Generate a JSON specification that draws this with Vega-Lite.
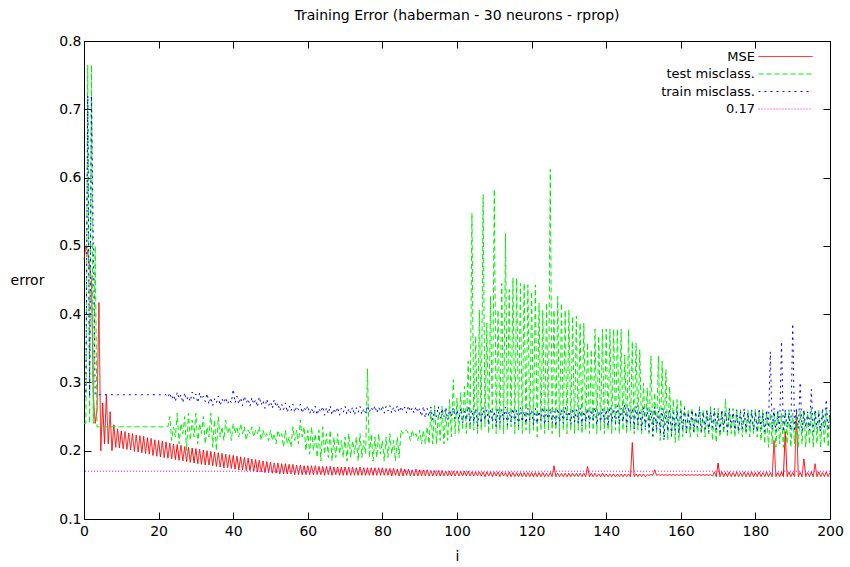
{
"$schema": "https://vega.github.io/schema/vega-lite/v6.json",
"width": 746, "height": 478,
"autosize": {"type": "none"},
"padding": {"left": 84, "top": 41, "right": 20, "bottom": 48},
"background": "white",
"title": {"text": "Training Error (haberman - 30 neurons - rprop)", "fontSize": 14, "fontWeight": "normal", "font": "DejaVu Sans", "color": "black", "offset": 18, "baseline": "alphabetic", "dy": 18},
"config": {
 "view": {"stroke": "black", "strokeWidth": 1},
 "axis": {"grid": false, "domain": false, "labelFlush": false, "tickColor": "black", "tickSize": -7, "tickWidth": 1, "labelFont": "DejaVu Sans", "labelFontSize": 14, "labelColor": "black", "titleFont": "DejaVu Sans", "titleFontSize": 14, "titleFontWeight": "normal", "titleColor": "black"},
 "legend": {"orient": "none", "legendX": 695, "legendY": 9, "padding": 0, "title": null, "symbolType": "M-5.4,0L5.4,0", "symbolSize": 100, "symbolStrokeWidth": 1, "labelFont": "DejaVu Sans", "labelFontSize": 13, "labelColor": "black", "labelAlign": "right", "labelOffset": -37, "rowPadding": 3.5}
},
"datasets": {"err": [
{"i":0,"m":0.48,"t":0.24,"r":0.28},{"i":0.5,"m":0.5,"t":0.24,"r":0.28},
{"i":1,"m":0.49,"t":0.765,"r":0.72},{"i":1.5,"m":0.47,"t":0.24,"r":0.28},
{"i":2,"m":0.45,"t":0.765,"r":0.72},{"i":2.5,"m":0.28,"t":0.24,"r":0.5},
{"i":3,"m":0.24,"t":0.5,"r":0.282},{"i":3.5,"m":0.26,"t":0.235,"r":0.282},
{"i":4,"m":0.417,"t":0.235,"r":0.282},{"i":4.5,"m":0.2,"t":0.235,"r":0.282},
{"i":5,"m":0.27,"t":0.235,"r":0.282},{"i":5.5,"m":0.21,"t":0.235,"r":0.282},
{"i":6,"m":0.282,"t":0.235,"r":0.282},{"i":6.5,"m":0.21,"t":0.235,"r":0.282},
{"i":7,"m":0.257,"t":0.235,"r":0.282},{"i":7.5,"m":0.2,"t":0.235,"r":0.282},
{"i":8,"m":0.238,"t":0.235,"r":0.282},{"i":8.5,"m":0.205,"t":0.235,"r":0.282},
{"i":9,"m":0.232,"t":0.235,"r":0.282},{"i":9.5,"m":0.204,"t":0.235,"r":0.282},
{"i":10,"m":0.229,"t":0.235,"r":0.282},{"i":10.5,"m":0.203,"t":0.235,"r":0.282},
{"i":11,"m":0.228,"t":0.235,"r":0.282},{"i":11.5,"m":0.202,"t":0.235,"r":0.282},
{"i":12,"m":0.226,"t":0.235,"r":0.282},{"i":12.5,"m":0.201,"t":0.235,"r":0.282},
{"i":13,"m":0.225,"t":0.235,"r":0.282},{"i":13.5,"m":0.199,"t":0.235,"r":0.282},
{"i":14,"m":0.223,"t":0.235,"r":0.282},{"i":14.5,"m":0.198,"t":0.235,"r":0.282},
{"i":15,"m":0.222,"t":0.235,"r":0.282},{"i":15.5,"m":0.197,"t":0.235,"r":0.282},
{"i":16,"m":0.221,"t":0.235,"r":0.282},{"i":16.5,"m":0.196,"t":0.235,"r":0.282},
{"i":17,"m":0.219,"t":0.235,"r":0.282},{"i":17.5,"m":0.195,"t":0.235,"r":0.282},
{"i":18,"m":0.218,"t":0.235,"r":0.282},{"i":18.5,"m":0.193,"t":0.235,"r":0.282},
{"i":19,"m":0.216,"t":0.235,"r":0.282},{"i":19.5,"m":0.192,"t":0.235,"r":0.282},
{"i":20,"m":0.215,"t":0.235,"r":0.282},{"i":20.5,"m":0.191,"t":0.235,"r":0.282},
{"i":21,"m":0.214,"t":0.235,"r":0.282},{"i":21.5,"m":0.19,"t":0.235,"r":0.282},
{"i":22,"m":0.213,"t":0.235,"r":0.282},{"i":22.5,"m":0.189,"t":0.235,"r":0.278},
{"i":23,"m":0.211,"t":0.25,"r":0.285},{"i":23.5,"m":0.188,"t":0.215,"r":0.275},
{"i":24,"m":0.21,"t":0.235,"r":0.282},{"i":24.5,"m":0.187,"t":0.22,"r":0.272},
{"i":25,"m":0.209,"t":0.255,"r":0.286},{"i":25.5,"m":0.186,"t":0.21,"r":0.276},
{"i":26,"m":0.208,"t":0.24,"r":0.282},{"i":26.5,"m":0.185,"t":0.225,"r":0.27},
{"i":27,"m":0.206,"t":0.25,"r":0.285},{"i":27.5,"m":0.184,"t":0.2,"r":0.274},
{"i":28,"m":0.205,"t":0.255,"r":0.28},{"i":28.5,"m":0.183,"t":0.215,"r":0.272},
{"i":29,"m":0.204,"t":0.245,"r":0.286},{"i":29.5,"m":0.182,"t":0.22,"r":0.276},
{"i":30,"m":0.203,"t":0.255,"r":0.283},{"i":30.5,"m":0.181,"t":0.21,"r":0.27},
{"i":31,"m":0.202,"t":0.24,"r":0.285},{"i":31.5,"m":0.18,"t":0.225,"r":0.275},
{"i":32,"m":0.201,"t":0.25,"r":0.28},{"i":32.5,"m":0.179,"t":0.21,"r":0.272},
{"i":33,"m":0.2,"t":0.235,"r":0.284},{"i":33.5,"m":0.179,"t":0.22,"r":0.268},
{"i":34,"m":0.199,"t":0.255,"r":0.278},{"i":34.5,"m":0.178,"t":0.205,"r":0.266},
{"i":35,"m":0.198,"t":0.245,"r":0.276},{"i":35.5,"m":0.177,"t":0.2,"r":0.27},
{"i":36,"m":0.197,"t":0.25,"r":0.28},{"i":36.5,"m":0.176,"t":0.22,"r":0.266},
{"i":37,"m":0.196,"t":0.235,"r":0.276},{"i":37.5,"m":0.175,"t":0.215,"r":0.27},
{"i":38,"m":0.195,"t":0.245,"r":0.278},{"i":38.5,"m":0.175,"t":0.225,"r":0.268},
{"i":39,"m":0.194,"t":0.235,"r":0.275},{"i":39.5,"m":0.174,"t":0.215,"r":0.27},
{"i":40,"m":0.193,"t":0.24,"r":0.29},{"i":40.5,"m":0.173,"t":0.225,"r":0.27},
{"i":41,"m":0.192,"t":0.235,"r":0.28},{"i":41.5,"m":0.172,"t":0.22,"r":0.268},
{"i":42,"m":0.191,"t":0.24,"r":0.278},{"i":42.5,"m":0.172,"t":0.225,"r":0.266},
{"i":43,"m":0.19,"t":0.235,"r":0.28},{"i":43.5,"m":0.171,"t":0.215,"r":0.27},
{"i":44,"m":0.189,"t":0.23,"r":0.276},{"i":44.5,"m":0.171,"t":0.225,"r":0.265},
{"i":45,"m":0.188,"t":0.235,"r":0.278},{"i":45.5,"m":0.17,"t":0.22,"r":0.268},
{"i":46,"m":0.187,"t":0.23,"r":0.275},{"i":46.5,"m":0.169,"t":0.225,"r":0.264},
{"i":47,"m":0.186,"t":0.235,"r":0.279},{"i":47.5,"m":0.169,"t":0.215,"r":0.267},
{"i":48,"m":0.185,"t":0.23,"r":0.274},{"i":48.5,"m":0.168,"t":0.22,"r":0.262},
{"i":49,"m":0.184,"t":0.225,"r":0.276},{"i":49.5,"m":0.168,"t":0.215,"r":0.266},
{"i":50,"m":0.183,"t":0.23,"r":0.272},{"i":50.5,"m":0.167,"t":0.215,"r":0.262},
{"i":51,"m":0.182,"t":0.225,"r":0.275},{"i":51.5,"m":0.167,"t":0.21,"r":0.264},
{"i":52,"m":0.182,"t":0.23,"r":0.27},{"i":52.5,"m":0.166,"t":0.22,"r":0.258},
{"i":53,"m":0.181,"t":0.225,"r":0.268},{"i":53.5,"m":0.166,"t":0.205,"r":0.26},
{"i":54,"m":0.181,"t":0.23,"r":0.27},{"i":54.5,"m":0.166,"t":0.21,"r":0.256},
{"i":55,"m":0.18,"t":0.22,"r":0.266},{"i":55.5,"m":0.166,"t":0.205,"r":0.258},
{"i":56,"m":0.18,"t":0.235,"r":0.268},{"i":56.5,"m":0.165,"t":0.215,"r":0.256},
{"i":57,"m":0.179,"t":0.23,"r":0.265},{"i":57.5,"m":0.165,"t":0.21,"r":0.26},
{"i":58,"m":0.179,"t":0.245,"r":0.268},{"i":58.5,"m":0.165,"t":0.22,"r":0.255},
{"i":59,"m":0.178,"t":0.235,"r":0.264},{"i":59.5,"m":0.165,"t":0.2,"r":0.258},
{"i":60,"m":0.178,"t":0.23,"r":0.266},{"i":60.5,"m":0.165,"t":0.195,"r":0.254},
{"i":61,"m":0.178,"t":0.235,"r":0.262},{"i":61.5,"m":0.165,"t":0.2,"r":0.254},
{"i":62,"m":0.178,"t":0.225,"r":0.265},{"i":62.5,"m":0.165,"t":0.19,"r":0.252},
{"i":63,"m":0.177,"t":0.23,"r":0.262},{"i":63.5,"m":0.165,"t":0.185,"r":0.256},
{"i":64,"m":0.177,"t":0.235,"r":0.265},{"i":64.5,"m":0.164,"t":0.195,"r":0.252},
{"i":65,"m":0.177,"t":0.225,"r":0.263},{"i":65.5,"m":0.165,"t":0.19,"r":0.254},
{"i":66,"m":0.177,"t":0.23,"r":0.266},{"i":66.5,"m":0.164,"t":0.185,"r":0.252},
{"i":67,"m":0.176,"t":0.22,"r":0.262},{"i":67.5,"m":0.165,"t":0.19,"r":0.255},
{"i":68,"m":0.176,"t":0.225,"r":0.264},{"i":68.5,"m":0.164,"t":0.195,"r":0.252},
{"i":69,"m":0.176,"t":0.215,"r":0.262},{"i":69.5,"m":0.164,"t":0.19,"r":0.256},
{"i":70,"m":0.176,"t":0.22,"r":0.265},{"i":70.5,"m":0.164,"t":0.185,"r":0.253},
{"i":71,"m":0.176,"t":0.225,"r":0.262},{"i":71.5,"m":0.164,"t":0.19,"r":0.255},
{"i":72,"m":0.176,"t":0.215,"r":0.264},{"i":72.5,"m":0.164,"t":0.195,"r":0.252},
{"i":73,"m":0.175,"t":0.22,"r":0.263},{"i":73.5,"m":0.164,"t":0.185,"r":0.256},
{"i":74,"m":0.176,"t":0.225,"r":0.265},{"i":74.5,"m":0.164,"t":0.19,"r":0.253},
{"i":75,"m":0.175,"t":0.215,"r":0.262},{"i":75.5,"m":0.164,"t":0.195,"r":0.255},
{"i":76,"m":0.175,"t":0.32,"r":0.266},{"i":76.5,"m":0.164,"t":0.19,"r":0.256},
{"i":77,"m":0.175,"t":0.225,"r":0.264},{"i":77.5,"m":0.164,"t":0.185,"r":0.258},
{"i":78,"m":0.175,"t":0.22,"r":0.266},{"i":78.5,"m":0.164,"t":0.19,"r":0.255},
{"i":79,"m":0.175,"t":0.225,"r":0.264},{"i":79.5,"m":0.164,"t":0.195,"r":0.257},
{"i":80,"m":0.175,"t":0.215,"r":0.266},{"i":80.5,"m":0.164,"t":0.185,"r":0.255},
{"i":81,"m":0.174,"t":0.22,"r":0.265},{"i":81.5,"m":0.164,"t":0.19,"r":0.258},
{"i":82,"m":0.174,"t":0.225,"r":0.266},{"i":82.5,"m":0.163,"t":0.195,"r":0.255},
{"i":83,"m":0.174,"t":0.215,"r":0.264},{"i":83.5,"m":0.164,"t":0.185,"r":0.257},
{"i":84,"m":0.173,"t":0.22,"r":0.266},{"i":84.5,"m":0.163,"t":0.19,"r":0.256},
{"i":85,"m":0.174,"t":0.23,"r":0.265},{"i":85.5,"m":0.163,"t":0.225,"r":0.258},
{"i":86,"m":0.173,"t":0.23,"r":0.264},{"i":86.5,"m":0.164,"t":0.23,"r":0.255},
{"i":87,"m":0.173,"t":0.225,"r":0.266},{"i":87.5,"m":0.163,"t":0.215,"r":0.257},
{"i":88,"m":0.172,"t":0.23,"r":0.263},{"i":88.5,"m":0.163,"t":0.22,"r":0.255},
{"i":89,"m":0.173,"t":0.225,"r":0.265},{"i":89.5,"m":0.163,"t":0.215,"r":0.256},
{"i":90,"m":0.172,"t":0.23,"r":0.262},{"i":90.5,"m":0.163,"t":0.21,"r":0.25},
{"i":91,"m":0.172,"t":0.23,"r":0.265},{"i":91.5,"m":0.163,"t":0.21,"r":0.248},
{"i":92,"m":0.172,"t":0.235,"r":0.262},{"i":92.5,"m":0.163,"t":0.21,"r":0.25},
{"i":93,"m":0.171,"t":0.26,"r":0.264},{"i":93.5,"m":0.163,"t":0.21,"r":0.245},
{"i":94,"m":0.171,"t":0.266,"r":0.26},{"i":94.5,"m":0.163,"t":0.21,"r":0.25},
{"i":95,"m":0.171,"t":0.255,"r":0.265},{"i":95.5,"m":0.163,"t":0.215,"r":0.247},
{"i":96,"m":0.171,"t":0.265,"r":0.262},{"i":96.5,"m":0.163,"t":0.21,"r":0.25},
{"i":97,"m":0.17,"t":0.26,"r":0.264},{"i":97.5,"m":0.163,"t":0.215,"r":0.245},
{"i":98,"m":0.17,"t":0.275,"r":0.26},{"i":98.5,"m":0.163,"t":0.22,"r":0.25},
{"i":99,"m":0.17,"t":0.304,"r":0.263},{"i":99.5,"m":0.163,"t":0.225,"r":0.247},
{"i":100,"m":0.17,"t":0.277,"r":0.26},{"i":100.5,"m":0.163,"t":0.225,"r":0.245},
{"i":101,"m":0.17,"t":0.285,"r":0.262},{"i":101.5,"m":0.163,"t":0.23,"r":0.24},
{"i":102,"m":0.17,"t":0.294,"r":0.258},{"i":102.5,"m":0.163,"t":0.225,"r":0.245},
{"i":103,"m":0.17,"t":0.331,"r":0.265},{"i":103.5,"m":0.163,"t":0.23,"r":0.238},
{"i":104,"m":0.169,"t":0.548,"r":0.26},{"i":104.5,"m":0.163,"t":0.23,"r":0.242},
{"i":105,"m":0.169,"t":0.368,"r":0.262},{"i":105.5,"m":0.163,"t":0.225,"r":0.235},
{"i":106,"m":0.169,"t":0.406,"r":0.258},{"i":106.5,"m":0.163,"t":0.23,"r":0.24},
{"i":107,"m":0.169,"t":0.575,"r":0.264},{"i":107.5,"m":0.162,"t":0.235,"r":0.245},
{"i":108,"m":0.169,"t":0.387,"r":0.26},{"i":108.5,"m":0.163,"t":0.225,"r":0.238},
{"i":109,"m":0.169,"t":0.426,"r":0.262},{"i":109.5,"m":0.162,"t":0.23,"r":0.242},
{"i":110,"m":0.169,"t":0.583,"r":0.258},{"i":110.5,"m":0.163,"t":0.225,"r":0.235},
{"i":111,"m":0.169,"t":0.406,"r":0.262},{"i":111.5,"m":0.162,"t":0.23,"r":0.24},
{"i":112,"m":0.169,"t":0.445,"r":0.26},{"i":112.5,"m":0.163,"t":0.225,"r":0.245},
{"i":113,"m":0.168,"t":0.518,"r":0.264},{"i":113.5,"m":0.162,"t":0.23,"r":0.238},
{"i":114,"m":0.169,"t":0.436,"r":0.258},{"i":114.5,"m":0.162,"t":0.235,"r":0.242},
{"i":115,"m":0.168,"t":0.453,"r":0.262},{"i":115.5,"m":0.162,"t":0.225,"r":0.24},
{"i":116,"m":0.168,"t":0.453,"r":0.26},{"i":116.5,"m":0.162,"t":0.23,"r":0.236},
{"i":117,"m":0.168,"t":0.445,"r":0.263},{"i":117.5,"m":0.162,"t":0.225,"r":0.242},
{"i":118,"m":0.168,"t":0.445,"r":0.258},{"i":118.5,"m":0.162,"t":0.23,"r":0.24},
{"i":119,"m":0.168,"t":0.443,"r":0.262},{"i":119.5,"m":0.162,"t":0.225,"r":0.245},
{"i":120,"m":0.168,"t":0.433,"r":0.26},{"i":120.5,"m":0.162,"t":0.23,"r":0.238},
{"i":121,"m":0.168,"t":0.443,"r":0.262},{"i":121.5,"m":0.162,"t":0.22,"r":0.24},
{"i":122,"m":0.168,"t":0.416,"r":0.258},{"i":122.5,"m":0.162,"t":0.23,"r":0.244},
{"i":123,"m":0.168,"t":0.406,"r":0.264},{"i":123.5,"m":0.162,"t":0.225,"r":0.238},
{"i":124,"m":0.167,"t":0.416,"r":0.26},{"i":124.5,"m":0.162,"t":0.23,"r":0.242},
{"i":125,"m":0.168,"t":0.612,"r":0.262},{"i":125.5,"m":0.162,"t":0.225,"r":0.24},
{"i":126,"m":0.178,"t":0.406,"r":0.258},{"i":126.5,"m":0.162,"t":0.23,"r":0.236},
{"i":127,"m":0.167,"t":0.426,"r":0.262},{"i":127.5,"m":0.162,"t":0.22,"r":0.242},
{"i":128,"m":0.167,"t":0.416,"r":0.26},{"i":128.5,"m":0.162,"t":0.23,"r":0.24},
{"i":129,"m":0.167,"t":0.406,"r":0.264},{"i":129.5,"m":0.162,"t":0.225,"r":0.245},
{"i":130,"m":0.167,"t":0.406,"r":0.258},{"i":130.5,"m":0.162,"t":0.23,"r":0.238},
{"i":131,"m":0.167,"t":0.397,"r":0.262},{"i":131.5,"m":0.162,"t":0.225,"r":0.242},
{"i":132,"m":0.167,"t":0.397,"r":0.26},{"i":132.5,"m":0.162,"t":0.23,"r":0.24},
{"i":133,"m":0.167,"t":0.387,"r":0.263},{"i":133.5,"m":0.162,"t":0.225,"r":0.236},
{"i":134,"m":0.167,"t":0.387,"r":0.258},{"i":134.5,"m":0.162,"t":0.23,"r":0.242},
{"i":135,"m":0.177,"t":0.358,"r":0.262},{"i":135.5,"m":0.162,"t":0.225,"r":0.24},
{"i":136,"m":0.167,"t":0.348,"r":0.26},{"i":136.5,"m":0.162,"t":0.23,"r":0.245},
{"i":137,"m":0.167,"t":0.378,"r":0.264},{"i":137.5,"m":0.162,"t":0.225,"r":0.238},
{"i":138,"m":0.166,"t":0.368,"r":0.258},{"i":138.5,"m":0.162,"t":0.23,"r":0.242},
{"i":139,"m":0.167,"t":0.378,"r":0.262},{"i":139.5,"m":0.162,"t":0.225,"r":0.24},
{"i":140,"m":0.166,"t":0.378,"r":0.26},{"i":140.5,"m":0.162,"t":0.23,"r":0.236},
{"i":141,"m":0.166,"t":0.378,"r":0.265},{"i":141.5,"m":0.162,"t":0.225,"r":0.242},
{"i":142,"m":0.166,"t":0.378,"r":0.262},{"i":142.5,"m":0.162,"t":0.23,"r":0.24},
{"i":143,"m":0.166,"t":0.378,"r":0.266},{"i":143.5,"m":0.162,"t":0.225,"r":0.238},
{"i":144,"m":0.166,"t":0.378,"r":0.262},{"i":144.5,"m":0.162,"t":0.23,"r":0.242},
{"i":145,"m":0.166,"t":0.34,"r":0.268},{"i":145.5,"m":0.162,"t":0.225,"r":0.235},
{"i":146,"m":0.166,"t":0.378,"r":0.264},{"i":146.5,"m":0.162,"t":0.23,"r":0.24},
{"i":147,"m":0.212,"t":0.36,"r":0.262},{"i":147.5,"m":0.162,"t":0.225,"r":0.232},
{"i":148,"m":0.166,"t":0.358,"r":0.265},{"i":148.5,"m":0.162,"t":0.23,"r":0.238},
{"i":149,"m":0.166,"t":0.348,"r":0.26},{"i":149.5,"m":0.162,"t":0.225,"r":0.23},
{"i":150,"m":0.166,"t":0.299,"r":0.264},{"i":150.5,"m":0.162,"t":0.23,"r":0.235},
{"i":151,"m":0.165,"t":0.292,"r":0.262},{"i":151.5,"m":0.164,"t":0.225,"r":0.228},
{"i":152,"m":0.165,"t":0.339,"r":0.26},{"i":152.5,"m":0.164,"t":0.22,"r":0.222},
{"i":153,"m":0.172,"t":0.285,"r":0.264},{"i":153.5,"m":0.164,"t":0.225,"r":0.23},
{"i":154,"m":0.165,"t":0.339,"r":0.258},{"i":154.5,"m":0.164,"t":0.215,"r":0.225},
{"i":155,"m":0.165,"t":0.331,"r":0.262},{"i":155.5,"m":0.164,"t":0.22,"r":0.215},
{"i":156,"m":0.165,"t":0.319,"r":0.258},{"i":156.5,"m":0.164,"t":0.215,"r":0.228},
{"i":157,"m":0.165,"t":0.294,"r":0.262},{"i":157.5,"m":0.164,"t":0.22,"r":0.222},
{"i":158,"m":0.165,"t":0.275,"r":0.256},{"i":158.5,"m":0.164,"t":0.212,"r":0.23},
{"i":159,"m":0.165,"t":0.275,"r":0.26},{"i":159.5,"m":0.164,"t":0.215,"r":0.225},
{"i":160,"m":0.165,"t":0.275,"r":0.258},{"i":160.5,"m":0.164,"t":0.22,"r":0.23},
{"i":161,"m":0.165,"t":0.265,"r":0.262},{"i":161.5,"m":0.164,"t":0.225,"r":0.226},
{"i":162,"m":0.165,"t":0.26,"r":0.256},{"i":162.5,"m":0.164,"t":0.22,"r":0.232},
{"i":163,"m":0.165,"t":0.262,"r":0.26},{"i":163.5,"m":0.164,"t":0.225,"r":0.228},
{"i":164,"m":0.165,"t":0.255,"r":0.257},{"i":164.5,"m":0.164,"t":0.22,"r":0.234},
{"i":165,"m":0.165,"t":0.265,"r":0.262},{"i":165.5,"m":0.164,"t":0.225,"r":0.228},
{"i":166,"m":0.165,"t":0.26,"r":0.256},{"i":166.5,"m":0.164,"t":0.22,"r":0.232},
{"i":167,"m":0.165,"t":0.258,"r":0.26},{"i":167.5,"m":0.164,"t":0.225,"r":0.228},
{"i":168,"m":0.165,"t":0.265,"r":0.257},{"i":168.5,"m":0.163,"t":0.215,"r":0.234},
{"i":169,"m":0.169,"t":0.26,"r":0.262},{"i":169.5,"m":0.162,"t":0.212,"r":0.23},
{"i":170,"m":0.182,"t":0.262,"r":0.256},{"i":170.5,"m":0.162,"t":0.22,"r":0.228},
{"i":171,"m":0.169,"t":0.258,"r":0.26},{"i":171.5,"m":0.162,"t":0.225,"r":0.232},
{"i":172,"m":0.168,"t":0.275,"r":0.257},{"i":172.5,"m":0.162,"t":0.22,"r":0.228},
{"i":173,"m":0.169,"t":0.26,"r":0.262},{"i":173.5,"m":0.162,"t":0.225,"r":0.234},
{"i":174,"m":0.168,"t":0.262,"r":0.256},{"i":174.5,"m":0.162,"t":0.22,"r":0.23},
{"i":175,"m":0.169,"t":0.258,"r":0.26},{"i":175.5,"m":0.162,"t":0.225,"r":0.228},
{"i":176,"m":0.168,"t":0.26,"r":0.257},{"i":176.5,"m":0.162,"t":0.22,"r":0.232},
{"i":177,"m":0.169,"t":0.255,"r":0.262},{"i":177.5,"m":0.162,"t":0.225,"r":0.228},
{"i":178,"m":0.168,"t":0.26,"r":0.256},{"i":178.5,"m":0.162,"t":0.22,"r":0.234},
{"i":179,"m":0.169,"t":0.258,"r":0.26},{"i":179.5,"m":0.162,"t":0.225,"r":0.23},
{"i":180,"m":0.168,"t":0.262,"r":0.257},{"i":180.5,"m":0.162,"t":0.22,"r":0.228},
{"i":181,"m":0.169,"t":0.255,"r":0.262},{"i":181.5,"m":0.162,"t":0.215,"r":0.232},
{"i":182,"m":0.168,"t":0.26,"r":0.256},{"i":182.5,"m":0.162,"t":0.21,"r":0.228},
{"i":183,"m":0.169,"t":0.258,"r":0.26},{"i":183.5,"m":0.162,"t":0.205,"r":0.234},
{"i":184,"m":0.168,"t":0.255,"r":0.345},{"i":184.5,"m":0.162,"t":0.21,"r":0.23},
{"i":185,"m":0.215,"t":0.258,"r":0.262},{"i":185.5,"m":0.162,"t":0.205,"r":0.228},
{"i":186,"m":0.168,"t":0.26,"r":0.257},{"i":186.5,"m":0.162,"t":0.21,"r":0.232},
{"i":187,"m":0.169,"t":0.255,"r":0.36},{"i":187.5,"m":0.162,"t":0.205,"r":0.228},
{"i":188,"m":0.228,"t":0.258,"r":0.26},{"i":188.5,"m":0.162,"t":0.21,"r":0.234},
{"i":189,"m":0.169,"t":0.26,"r":0.256},{"i":189.5,"m":0.162,"t":0.205,"r":0.23},
{"i":190,"m":0.168,"t":0.255,"r":0.386},{"i":190.5,"m":0.162,"t":0.21,"r":0.228},
{"i":191,"m":0.255,"t":0.26,"r":0.262},{"i":191.5,"m":0.162,"t":0.205,"r":0.232},
{"i":192,"m":0.168,"t":0.258,"r":0.3},{"i":192.5,"m":0.162,"t":0.21,"r":0.228},
{"i":193,"m":0.188,"t":0.26,"r":0.26},{"i":193.5,"m":0.162,"t":0.205,"r":0.234},
{"i":194,"m":0.168,"t":0.255,"r":0.257},{"i":194.5,"m":0.162,"t":0.21,"r":0.23},
{"i":195,"m":0.169,"t":0.262,"r":0.29},{"i":195.5,"m":0.162,"t":0.205,"r":0.228},
{"i":196,"m":0.181,"t":0.258,"r":0.26},{"i":196.5,"m":0.162,"t":0.21,"r":0.232},
{"i":197,"m":0.169,"t":0.26,"r":0.256},{"i":197.5,"m":0.162,"t":0.205,"r":0.228},
{"i":198,"m":0.168,"t":0.255,"r":0.262},{"i":198.5,"m":0.162,"t":0.21,"r":0.234},
{"i":199,"m":0.169,"t":0.26,"r":0.275},{"i":199.5,"m":0.162,"t":0.205,"r":0.23},
{"i":200,"m":0.168,"t":0.258,"r":0.26}
]},
"resolve": {"axis": {"x": "independent", "y": "independent"}},
"layer": [
 {"data": {"name": "err"}, "mark": {"type": "line", "strokeWidth": 1},
  "encoding": {
   "x": {"field": "i", "type": "quantitative", "scale": {"domain": [0, 200], "nice": false, "zero": false},
         "axis": {"orient": "bottom", "values": [0,20,40,60,80,100,120,140,160,180,200], "format": "d", "labelPadding": 12, "labelFlush": false, "title": "i", "titleX": 373, "titleY": 37, "titleBaseline": "middle", "titleAlign": "center"}},
   "y": {"field": "m", "type": "quantitative", "scale": {"domain": [0.1, 0.8], "nice": false, "zero": false},
         "axis": {"orient": "left", "values": [0.1,0.2,0.3,0.4,0.5,0.6,0.7,0.8], "format": ".1f", "labelPadding": 10, "labelFlush": false, "title": "error", "titleAngle": 0, "titleX": -57, "titleY": 239, "titleAlign": "center", "titleBaseline": "middle"}},
   "color": {"datum": "MSE", "type": "nominal", "scale": {"domain": ["MSE", "test misclass.", "train misclass.", "0.17"], "range": ["#ff0000", "#00ee00", "#0000ff", "#ff00ff"]}},
   "strokeDash": {"datum": "MSE", "type": "nominal", "scale": {"domain": ["MSE", "test misclass.", "train misclass.", "0.17"], "range": [[1,0],[5,3],[2,4],[1,2]]}}
  }},
 {"data": {"name": "err"}, "mark": {"type": "line", "strokeWidth": 1},
  "encoding": {
   "x": {"field": "i", "type": "quantitative", "scale": {"domain": [0, 200], "nice": false, "zero": false},
         "axis": {"orient": "top", "values": [0,20,40,60,80,100,120,140,160,180,200], "labels": false, "title": null}},
   "y": {"field": "t", "type": "quantitative", "scale": {"domain": [0.1, 0.8], "nice": false, "zero": false},
         "axis": {"orient": "right", "values": [0.1,0.2,0.3,0.4,0.5,0.6,0.7,0.8], "labels": false, "title": null}},
   "color": {"datum": "test misclass.", "type": "nominal"},
   "strokeDash": {"datum": "test misclass.", "type": "nominal"}
  }},
 {"data": {"name": "err"}, "mark": {"type": "line", "strokeWidth": 1},
  "encoding": {
   "x": {"field": "i", "type": "quantitative", "scale": {"domain": [0, 200], "nice": false, "zero": false}, "axis": null},
   "y": {"field": "r", "type": "quantitative", "scale": {"domain": [0.1, 0.8], "nice": false, "zero": false}, "axis": null},
   "color": {"datum": "train misclass.", "type": "nominal"},
   "strokeDash": {"datum": "train misclass.", "type": "nominal"}
  }},
 {"data": {"values": [{}]}, "mark": {"type": "rule", "strokeWidth": 1},
  "encoding": {
   "y": {"datum": 0.17, "type": "quantitative", "scale": {"domain": [0.1, 0.8], "nice": false, "zero": false}, "axis": null},
   "color": {"datum": "0.17", "type": "nominal"},
   "strokeDash": {"datum": "0.17", "type": "nominal"}
  }}
]
}
